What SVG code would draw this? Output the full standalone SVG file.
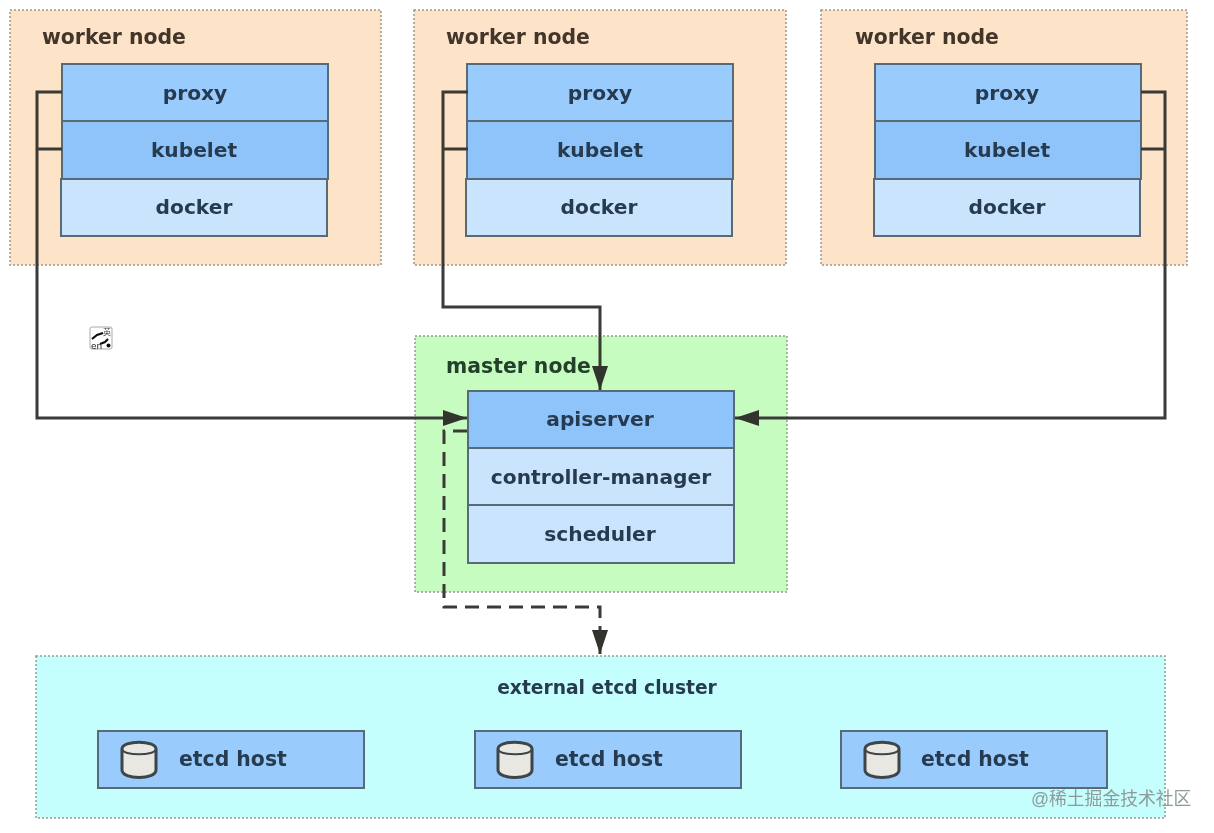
<svg xmlns="http://www.w3.org/2000/svg" width="1214" height="833" viewBox="0 0 1214 833">
<style>
.lbl{font-family:"DejaVu Sans",sans-serif;font-weight:700;font-size:20.200px;fill:#263b50;text-anchor:middle}
.title{font-family:"DejaVu Sans",sans-serif;font-weight:700;font-size:20.400px;text-anchor:start}
.outer{stroke:#9a9a90;stroke-width:1.500;stroke-dasharray:2 2}
.dark{fill:#8fc4fb;stroke:#566a78;stroke-width:2}
.mid{fill:#99cbfc;stroke:#566a78;stroke-width:2}
.light{fill:#cbe4fd;stroke:#566a78;stroke-width:2}
.wire{fill:none;stroke:#3a3a36;stroke-width:3}
.dash{fill:none;stroke:#3a3a36;stroke-width:3;stroke-dasharray:14 8}
.can{fill:#e9e7e2;stroke:#3c4448;stroke-width:3}
</style>
<defs>
<marker id="ah" markerUnits="userSpaceOnUse" markerWidth="26" markerHeight="18" refX="24" refY="8" orient="auto">
<path d="M0 0L24 8L0 16Z" fill="#33352f"/>
</marker>
<filter id="soft" x="-5%" y="-5%" width="110%" height="110%"><feGaussianBlur stdDeviation="0.5"/></filter>
</defs>
<rect width="1214" height="833" fill="#fff"/>
<g filter="url(#soft)">
<g id="worker1">
<rect class="outer" x="10" y="10" width="371" height="255" fill="#fde3c8"/>
<text class="title" x="42" y="44" fill="#43352a">worker node</text>
<rect class="mid" x="62" y="64" width="266" height="57"/>
<rect class="dark" x="62" y="121" width="266" height="58"/>
<rect class="light" x="61" y="179" width="266" height="57"/>
<text class="lbl" x="195" y="100">proxy</text>
<text class="lbl" x="194" y="157">kubelet</text>
<text class="lbl" x="194" y="214">docker</text>
</g>
<g id="worker2">
<rect class="outer" x="414" y="10" width="372" height="255" fill="#fde3c8"/>
<text class="title" x="446" y="44" fill="#43352a">worker node</text>
<rect class="mid" x="467" y="64" width="266" height="57"/>
<rect class="dark" x="467" y="121" width="266" height="58"/>
<rect class="light" x="466" y="179" width="266" height="57"/>
<text class="lbl" x="600" y="100">proxy</text>
<text class="lbl" x="600" y="157">kubelet</text>
<text class="lbl" x="599" y="214">docker</text>
</g>
<g id="worker3">
<rect class="outer" x="821" y="10" width="366" height="255" fill="#fde3c8"/>
<text class="title" x="855" y="44" fill="#43352a">worker node</text>
<rect class="mid" x="875" y="64" width="266" height="57"/>
<rect class="dark" x="875" y="121" width="266" height="58"/>
<rect class="light" x="874" y="179" width="266" height="57"/>
<text class="lbl" x="1007" y="100">proxy</text>
<text class="lbl" x="1007" y="157">kubelet</text>
<text class="lbl" x="1007" y="214">docker</text>
</g>
<g id="master">
<rect class="outer" x="415" y="336" width="372" height="256" fill="#c6fcc0"/>
<text class="title" x="446" y="373" fill="#24402c">master node</text>
<rect class="dark" x="468" y="391" width="266" height="57"/>
<rect class="light" x="468" y="448" width="266" height="57"/>
<rect class="light" x="468" y="505" width="266" height="58"/>
<text class="lbl" x="600" y="426">apiserver</text>
<text class="lbl" x="601" y="484">controller-manager</text>
<text class="lbl" x="600" y="541">scheduler</text>
</g>
<g id="etcd-cluster">
<rect class="outer" x="36" y="656" width="1129" height="162" fill="#c4fefd"/>
<text class="lbl" x="607" y="694" style="font-size:18.700px">external etcd cluster</text>
</g>
<g id="etcd1">
<rect class="mid" x="98" y="731" width="266" height="57"/>
<path class="can" d="M122 749C122 740 156 740 156 749V770C156 780 122 780 122 770Z"/>
<path d="M122 749C122 756 156 756 156 749" fill="none" stroke="#3c4448" stroke-width="2"/>
<text class="title" x="179" y="766" fill="#263b50">etcd host</text>
</g>
<g id="etcd2">
<rect class="mid" x="475" y="731" width="266" height="57"/>
<path class="can" d="M498 749C498 740 532 740 532 749V770C532 780 498 780 498 770Z"/>
<path d="M498 749C498 756 532 756 532 749" fill="none" stroke="#3c4448" stroke-width="2"/>
<text class="title" x="555" y="766" fill="#263b50">etcd host</text>
</g>
<g id="etcd3">
<rect class="mid" x="841" y="731" width="266" height="57"/>
<path class="can" d="M865 749C865 740 899 740 899 749V770C899 780 865 780 865 770Z"/>
<path d="M865 749C865 756 899 756 899 749" fill="none" stroke="#3c4448" stroke-width="2"/>
<text class="title" x="921" y="766" fill="#263b50">etcd host</text>
</g>
<g id="connectors">
<path class="wire" d="M62 92H37V418H467" marker-end="url(#ah)"/>
<path class="wire" d="M62 149H37"/>
<path class="wire" d="M468 92H443V307H600V390" marker-end="url(#ah)"/>
<path class="wire" d="M468 149H443"/>
<path class="wire" d="M1141 92H1165V418H735" marker-end="url(#ah)"/>
<path class="wire" d="M1141 149H1165"/>
<path class="dash" d="M467 431H444V607H600V654" marker-end="url(#ah)"/>
</g>
<g id="lang-icon">
<rect x="90" y="327" width="22" height="22" rx="2" fill="#fff" stroke="#aaa"/>
<path d="M92 339L97 335L103 333M100 344L105 342L108 339" fill="none" stroke="#111" stroke-width="2.200"/>
<circle cx="108.500" cy="345.500" r="2" fill="#111"/>
<text x="91" y="349" font-family="'DejaVu Sans',sans-serif" font-size="9" fill="#222">en</text>
<text x="103" y="335" font-family="'Noto Sans CJK SC',sans-serif" font-size="8" fill="#444">英</text>
</g>
<text x="1031" y="805" font-family="'Liberation Sans','Noto Sans CJK SC',sans-serif" font-size="17.800px" fill="#8f9a9a">@稀土掘金技术社区</text>
</g>
</svg>
